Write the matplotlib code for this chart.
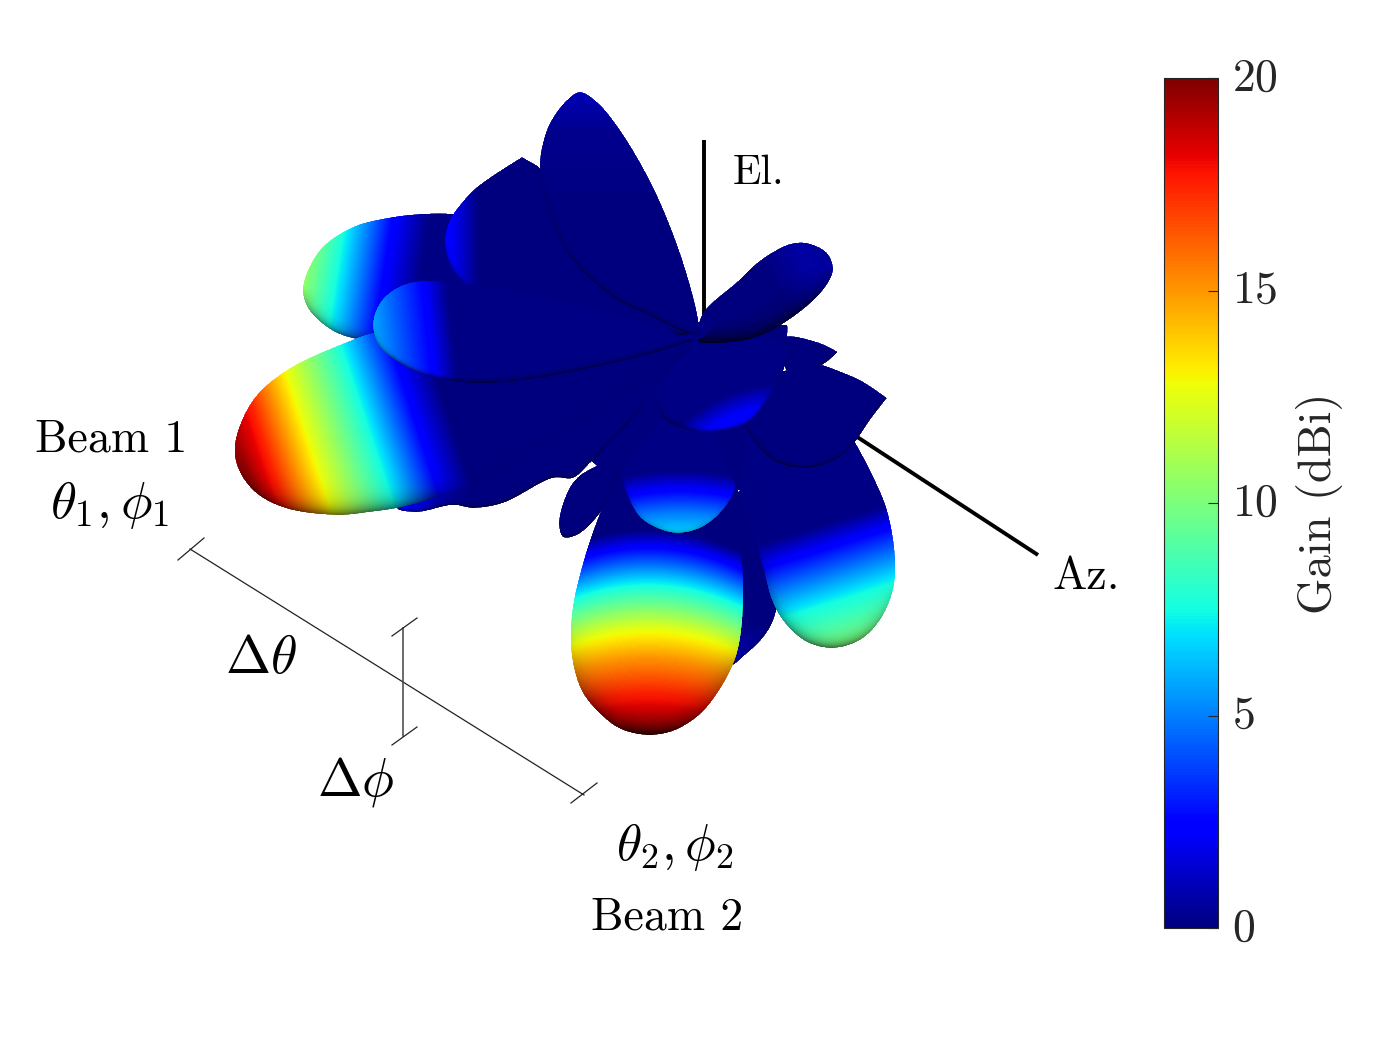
import numpy as np
import matplotlib
matplotlib.use("Agg")
import matplotlib.pyplot as plt
from matplotlib.path import Path
from matplotlib.colors import Normalize
from matplotlib.cm import ScalarMappable
from matplotlib.transforms import ScaledTranslation

# lobe outlines (pixels), gain bands as (distance along band axis, dBi)
upper_x = [303, 308, 327, 348, 420, 560, 690, 690, 600, 520, 455, 420, 387, 353, 320]
upper_y = [287, 308, 327, 337, 345, 345, 340, 340, 260, 225, 214, 214, 218, 227, 250]
upper_t = [344, 375.6, 421.8, 458]
upper_gain = [10.5, 7.5, 2.5, 0.1]

centre_x = [660, 697, 697, 785, 787, 787, 783, 860, 860, 740, 620, 590, 590, 640]
centre_y = [332, 322, 322, 325, 325, 340, 380, 435, 435, 490, 480, 460, 460, 400]
centre_t = [0, 2000]
centre_gain = [0.05, 0.05]

under_x = [397, 417, 453, 473, 503, 553, 573, 590, 640, 692, 692, 560, 450]
under_y = [508, 512, 505, 508, 503, 478, 478, 463, 410, 345, 345, 400, 470]
under_t = [395, 440, 470]
under_gain = [2.6, 0.6, 0.05]

fin_left_x = [620, 578, 567, 559, 563, 577, 600, 618, 650, 690, 690]
fin_left_y = [450, 477, 493, 523, 537, 535, 513, 477, 430, 345, 345]
fin_left_t = [0, 2000]
fin_left_gain = [0.05, 0.05]

side_x = [445, 450, 460, 477, 522, 522, 538, 538, 600, 692, 692, 627, 570, 520, 480, 453]
side_y = [243, 220, 205, 187, 157, 157, 166, 166, 230, 334, 334, 338, 333, 323, 300, 270]
side_t = [445, 455, 478]
side_gain = [2.6, 2.0, 0.05]

top_x = [540, 542, 550, 567, 580, 597, 620, 653, 680, 697, 700, 700, 687, 653, 613, 573, 553, 545]
top_y = [166, 147, 123, 100, 92, 102, 130, 187, 253, 313, 335, 335, 333, 317, 297, 260, 223, 197]
top_t = [92, 130, 200]
top_gain = [1.0, 0.3, 0.05]

beam1_x = [235, 238, 255, 285, 337, 370, 397, 437, 487, 553, 620, 690, 690, 560, 450, 373, 347, 287, 253]
beam1_y = [443, 468, 492, 508, 515, 512, 508, 497, 477, 440, 397, 343, 343, 320, 325, 333, 342, 370, 400]
beam1_t = [89, 113, 159.5, 217, 265, 297]
beam1_gain = [19.3, 17.5, 12.5, 7.5, 2.4, 0.05]

middle_x = [373, 380, 407, 437, 480, 537, 603, 653, 693, 693, 560, 423, 397, 380]
middle_y = [325, 347, 367, 378, 383, 378, 365, 353, 340, 340, 300, 281, 288, 303]
middle_t = [335, 390, 413]
middle_gain = [5.8, 2.4, 0.1]

rear_x = [740, 790, 775, 765, 745, 730, 720]
rear_y = [490, 500, 615, 635, 655, 665, 600]
rear_t = [625, 665]
rear_gain = [0.05, 1.0]

fin_small_x = [783, 817, 838, 838, 822, 790]
fin_small_y = [338, 342, 352, 352, 365, 375]
fin_small_t = [0, 2000]
fin_small_gain = [0.05, 0.05]

fin_wide_x = [780, 823, 823, 860, 887, 887, 870, 855, 840, 807, 773, 747, 735]
fin_wide_y = [372, 365, 365, 380, 398, 398, 420, 442, 457, 468, 460, 430, 395]
fin_wide_t = [0, 2000]
fin_wide_gain = [0.05, 0.05]

spot_high_x = [785, 780, 767, 747, 713, 683, 663, 657, 695, 695]
spot_high_y = [343, 380, 400, 423, 432, 428, 417, 390, 342, 342]
spot_high_t = [678, 702]
spot_high_gain = [0.1, 2.5]

beam3_x = [743, 740, 762, 772, 785, 807, 833, 860, 880, 893, 895, 887, 870, 855, 855, 810, 760]
beam3_y = [427, 493, 563, 600, 623, 642, 648, 640, 620, 590, 557, 510, 470, 442, 442, 425, 410]
beam3_t = [745, 768, 822, 866]
beam3_gain = [0.1, 2.4, 7.5, 10]

beam2_x = [620, 600, 583, 572, 572, 583, 607, 623, 647, 670, 690, 707, 727, 737, 742, 743, 740, 738, 745, 720, 660]
beam2_y = [470, 513, 563, 613, 657, 693, 720, 730, 735, 732, 722, 707, 677, 653, 623, 580, 530, 493, 430, 390, 380]
beam2_t = [530, 547, 563, 585, 603, 628, 657, 693, 723, 735]
beam2_gain = [0.05, 2.4, 4.5, 7.5, 9.5, 12.5, 15, 17.5, 19, 20]

spot_low_x = [627, 640, 657, 677, 700, 720, 735, 730, 690, 623]
spot_low_y = [493, 517, 528, 533, 528, 513, 488, 473, 400, 473]
spot_low_t = [470, 490, 513, 532]
spot_low_gain = [0.1, 2.4, 5.0, 6.6]

side_lobe_x = [697, 703, 738, 757, 773, 790, 807, 827, 833, 823, 793, 757, 720, 697]
side_lobe_y = [335, 313, 281, 263, 252, 244, 243, 253, 270, 290, 317, 337, 343, 341]
side_lobe_t = [518, 555, 578]
side_lobe_gain = [0.05, 0.7, 0.4]

cbar_ticks = [0, 5, 10, 15, 20]

plt.rcParams['font.family'] = 'cmr10'
plt.rcParams['mathtext.fontset'] = 'cm'
plt.rcParams['axes.formatter.use_mathtext'] = True

W, H = 1395, 1046
fig = plt.figure(figsize=(W / 100, H / 100), dpi=100)
ax = fig.add_axes([0, 0, 1, 1])
ax.set_axis_off()
norm = Normalize(0, 20)
cmap = plt.get_cmap('jet')


def smooth(x, y, n=12):
    # closed centripetal catmull-rom through the outline, a doubled point makes a corner
    p = np.column_stack([x, y]).astype(float)
    out = []
    for i in range(len(p)):
        p0, p1, p2, p3 = p[i - 1], p[i], p[(i + 1) % len(p)], p[(i + 2) % len(p)]
        t1 = max(np.linalg.norm(p1 - p0) ** 0.5, 1e-3)
        t2 = t1 + max(np.linalg.norm(p2 - p1) ** 0.5, 1e-3)
        t3 = t2 + max(np.linalg.norm(p3 - p2) ** 0.5, 1e-3)
        s = np.linspace(t1, t2, n, endpoint=False)[:, None]
        a1 = ((t1 - s) * p0 + s * p1) / t1
        a2 = ((t2 - s) * p1 + (s - t1) * p2) / (t2 - t1)
        a3 = ((t3 - s) * p2 + (s - t2) * p3) / (t3 - t2)
        b1 = ((t2 - s) * a1 + s * a2) / t2
        b2 = ((t3 - s) * a2 + (s - t1) * a3) / (t3 - t1)
        out.append(((t2 - s) * b1 + (s - t1) * b2) / (t2 - t1))
    return np.vstack(out)


def draw_lobe(x, y, t_stops, gains, axis=(1, 0), bend=0.0, bend_x=0.0,
              dark=0.7, width=1.8, fade=False, z=2):
    poly = smooth(x, y)
    x0, x1 = int(poly[:, 0].min()) - 1, int(poly[:, 0].max()) + 2
    y0, y1 = int(poly[:, 1].min()) - 1, int(poly[:, 1].max()) + 2
    gx, gy = np.meshgrid(np.arange(x0, x1) + 0.5, np.arange(y0, y1) + 0.5)
    pts = np.column_stack([gx.ravel(), gy.ravel()])
    inside = Path(poly).contains_points(pts)
    q = pts[inside]

    # distance to the outline, and which way the nearest edge faces
    a = poly
    b = np.roll(poly, -1, axis=0)
    area = np.sum(a[:, 0] * b[:, 1] - b[:, 0] * a[:, 1])
    best = np.full(len(q), 1e12)
    ndown = np.zeros(len(q))
    for p1, p2 in zip(a, b):
        e = p2 - p1
        ll = e @ e
        if ll < 1e-6:
            continue
        u = np.clip(((q - p1) @ e) / ll, 0, 1)
        d2 = np.sum((q - p1 - u[:, None] * e) ** 2, axis=1)
        hit = d2 < best
        best[hit] = d2[hit]
        nx, ny = e[1], -e[0]
        if area < 0:
            nx, ny = -nx, -ny
        ndown[hit] = (ny - 0.1 * nx) / np.hypot(nx, ny)
    dist = np.sqrt(best)

    t = q[:, 0] * axis[0] + q[:, 1] * axis[1] - bend * (q[:, 0] - bend_x) ** 2
    gain = np.interp(t, t_stops, gains)
    rgba = cmap(norm(gain))
    strength = dark * np.exp(-dist / width) * np.clip(ndown, 0, 1)
    if fade:
        # wide edge shadow only shows on the bright part of a beam
        strength = strength * np.clip(gain / 3, 0.1, 1)
    rgba[:, :3] *= (1 - strength)[:, None]
    rgba[:, 3] = np.clip(dist + 0.5, 0, 1)

    img = np.zeros((gx.size, 4))
    img[inside] = rgba
    ax.imshow(img.reshape(gx.shape + (4,)), extent=(x0, x1, y1, y0), aspect='auto',
              interpolation='nearest', zorder=z)


# axes lines sit behind the pattern
ax.plot([704, 704], [140, 325], color='k', lw=2.8, zorder=1, solid_capstyle='butt')
ax.plot([845, 1038], [429, 555], color='k', lw=2.8, zorder=1, solid_capstyle='butt')

draw_lobe(upper_x, upper_y, upper_t, upper_gain, axis=(0.988, 0.155), dark=0.55, width=5, fade=True)
draw_lobe(centre_x, centre_y, centre_t, centre_gain, dark=0)
draw_lobe(under_x, under_y, under_t, under_gain)
draw_lobe(fin_left_x, fin_left_y, fin_left_t, fin_left_gain)
draw_lobe(side_x, side_y, side_t, side_gain)
draw_lobe(top_x, top_y, top_t, top_gain, axis=(0, 1))
draw_lobe(beam1_x, beam1_y, beam1_t, beam1_gain, axis=(0.95, -0.31), dark=0.6, width=9, fade=True)
draw_lobe(middle_x, middle_y, middle_t, middle_gain, axis=(0.994, -0.11))
draw_lobe(rear_x, rear_y, rear_t, rear_gain, axis=(0, 1))
draw_lobe(fin_small_x, fin_small_y, fin_small_t, fin_small_gain)
draw_lobe(beam3_x, beam3_y, beam3_t, beam3_gain, axis=(0.3, 0.95), dark=0.6, width=6, fade=True)
draw_lobe(fin_wide_x, fin_wide_y, fin_wide_t, fin_wide_gain)
draw_lobe(beam2_x, beam2_y, beam2_t, beam2_gain, axis=(0, 1), bend=0.0025, bend_x=648,
          dark=0.7, width=12, fade=True)
draw_lobe(spot_low_x, spot_low_y, spot_low_t, spot_low_gain, axis=(0, 1), bend=0.002,
          bend_x=680, dark=0.3, width=2)
draw_lobe(spot_high_x, spot_high_y, spot_high_t, spot_high_gain, axis=(0.45, 0.89),
          bend=0.004, bend_x=720)
draw_lobe(side_lobe_x, side_lobe_y, side_lobe_t, side_lobe_gain, axis=(0.85, -0.5),
          dark=0.8, width=9)

# separation brackets
ax.plot([190, 584], [549, 795], color='#222222', lw=0.9, zorder=3)
ax.plot([178, 204], [560, 538], color='#222222', lw=0.9, zorder=3)
ax.plot([571, 597], [803, 783], color='#222222', lw=0.9, zorder=3)
ax.plot([403, 403], [628, 736], color='#444444', lw=1.1, zorder=3)
ax.plot([392, 417], [636, 618], color='#222222', lw=0.9, zorder=3)
ax.plot([392, 417], [745, 727], color='#222222', lw=0.9, zorder=3)

ax.text(111, 440, 'Beam 1', fontsize=33, ha='center', va='center')
ax.text(667, 918, 'Beam 2', fontsize=33, ha='center', va='center')
ax.text(110, 505, r'$\theta_1, \phi_1$', fontsize=38, ha='center', va='center')
ax.text(675, 847, r'$\theta_2, \phi_2$', fontsize=37, ha='center', va='center')
ax.text(261, 660, r'$\Delta\theta$', fontsize=39, ha='center', va='center')
ax.text(356, 782, r'$\Delta\phi$', fontsize=38.5, ha='center', va='center')
ax.text(758, 173, 'El.', fontsize=30, ha='center', va='center')
ax.text(1086, 577, 'Az.', fontsize=33, ha='center', va='center')

ax.set_xlim(0, W)
ax.set_ylim(H, 0)

cax = fig.add_axes([1164 / W, (H - 928) / H, 54 / W, 850 / H])
cb = fig.colorbar(ScalarMappable(norm=norm, cmap=cmap), cax=cax)
cb.set_ticks(cbar_ticks)
cb.ax.tick_params(direction='in', length=7, width=0.8, color='#262626',
                  labelcolor='#262626', labelsize=33, pad=10)
for lab in cb.ax.get_yticklabels():
    lab.set_transform(lab.get_transform() + ScaledTranslation(0, 4 / 100, fig.dpi_scale_trans))
cb.outline.set_edgecolor('#262626')
cb.outline.set_linewidth(0.8)
cb.set_label('Gain (dBi)', fontsize=33.5, color='#262626', labelpad=13)

fig.savefig('out.png', dpi=100)
